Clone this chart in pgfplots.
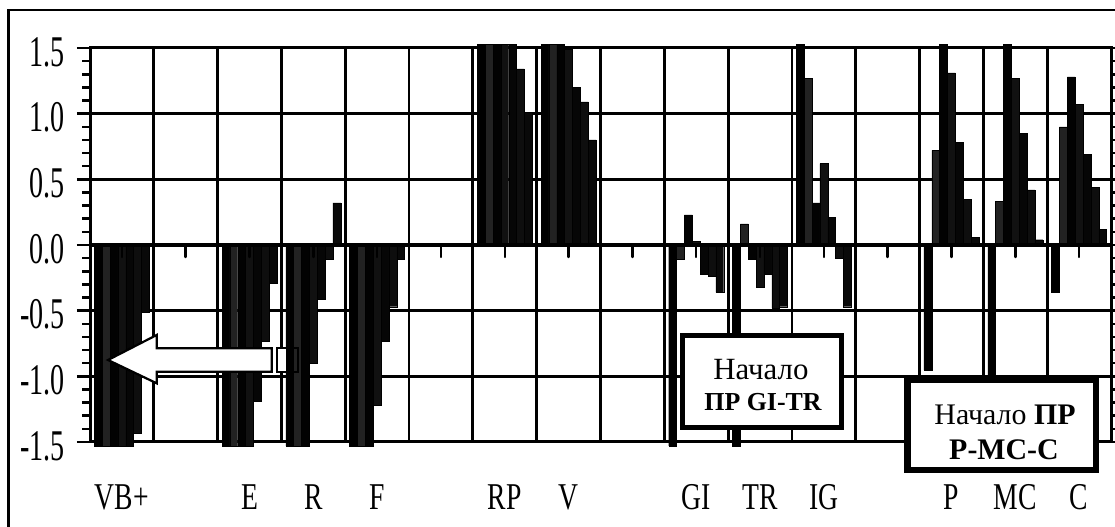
\documentclass[border=0pt]{standalone}
\usepackage{fontspec}
\setmainfont{Liberation Serif}
\newfontfamily\narrowfont{Liberation Serif}[FakeStretch=0.73]
\newfontfamily\ticksfont{Liberation Serif}[FakeStretch=0.64]
\usepackage{pgfplots}
\pgfplotsset{compat=1.18}
\definecolor{sA}{HTML}{000000}
\definecolor{sB}{HTML}{222222}
\definecolor{sC}{HTML}{020202}
\definecolor{sD}{HTML}{111111}
\definecolor{sE}{HTML}{060606}
\definecolor{sF}{HTML}{0E0E0E}
\definecolor{sG}{HTML}{090909}
\tikzset{lbl/.style={font=\narrowfont\fontsize{38}{38}\selectfont, anchor=base, yshift=-68bp}}
\begin{document}
\begin{tikzpicture}[x=1bp,y=1bp]
\useasboundingbox (0,0) rectangle (1115,527);
\draw[line width=2.5bp] (8.5,517) rectangle (1135,-20);
\begin{axis}[
  at={(90bp,85bp)}, anchor=south west,
  width=1021bp, height=394bp, scale only axis,
  xmin=-0.5, xmax=15.5, ymin=-1.5, ymax=1.5,
  clip=false,
  ybar=0pt, bar width=7.86bp,
  xtick={0.5,1.5,...,14.5}, xticklabels={}, xmajorgrids,
  xtick style={draw=none},
  ytick={-1.5,-1,-0.5,0,0.5,1,1.5},
  yticklabels={-1.5,-1.0,-0.5,0.0,0.5,1.0,1.5},
  minor y tick num=4,
  ymajorgrids,
  tick align=outside,
  major tick length=13bp, minor tick length=8bp,
  ytick style={line width=2.5bp, black},
  yticklabel style={font=\ticksfont\fontsize{44}{44}\selectfont, inner sep=0pt, anchor=east, xshift=-12bp, yshift=-4bp},
  major grid style={line width=2.8bp, black},
  axis line style={line width=3bp},
  every axis plot/.append style={draw=black, line width=0.4bp},
]
\addplot[fill=sA] coordinates {(0,-1.53) (2,-1.53) (3,-1.53) (4,-1.53) (6,1.53) (7,1.53) (9,-1.53) (10,-1.53) (11,1.53) (13,-0.95) (14,-1.2) (15,-0.36)};
\addplot[fill=sB] coordinates {(0,-1.53) (2,-1.53) (3,-1.53) (4,-1.53) (6,1.53) (7,1.53) (9,-0.11) (10,0.16) (11,1.27) (13,0.72) (14,0.33) (15,0.90)};
\addplot[fill=sC] coordinates {(0,-1.53) (2,-1.53) (3,-1.53) (4,-1.53) (6,1.53) (7,1.53) (9,0.23) (10,-0.11) (11,0.32) (13,1.53) (14,1.53) (15,1.28)};
\addplot[fill=sD] coordinates {(0,-1.53) (2,-1.53) (3,-0.90) (4,-1.22) (6,1.53) (7,1.49) (9,0.03) (10,-0.32) (11,0.62) (13,1.31) (14,1.27) (15,1.07)};
\addplot[fill=sE] coordinates {(0,-1.53) (2,-1.19) (3,-0.41) (4,-0.73) (6,1.53) (7,1.20) (9,-0.22) (10,-0.22) (11,0.21) (13,0.78) (14,0.85) (15,0.69)};
\addplot[fill=sF] coordinates {(0,-1.43) (2,-0.73) (3,-0.11) (4,-0.47) (6,1.34) (7,1.09) (9,-0.24) (10,-0.48) (11,-0.10) (13,0.35) (14,0.42) (15,0.44)};
\addplot[fill=sG] coordinates {(0,-0.51) (2,-0.29) (3,0.32) (4,-0.11) (6,1.01) (7,0.80) (9,-0.36) (10,-0.47) (11,-0.47) (13,0.06) (14,0.04) (15,0.12)};
\draw[line width=4bp] (axis cs:-0.5,0) -- (axis cs:15.5,0);
\pgfplotsinvokeforeach{-0.5,0,...,15.5}{\draw[line width=2.5bp, line cap=round] (axis cs:#1,0) -- ++(0pt,-12bp);}
\node[lbl] at (axis cs:0,-1.5) {VB+};
\node[lbl] at (axis cs:2,-1.5) {E};
\node[lbl] at (axis cs:3,-1.5) {R};
\node[lbl] at (axis cs:4,-1.5) {F};
\node[lbl] at (axis cs:6,-1.5) {RP};
\node[lbl] at (axis cs:7,-1.5) {V};
\node[lbl] at (axis cs:9,-1.5) {GI};
\node[lbl] at (axis cs:10,-1.5) {TR};
\node[lbl] at (axis cs:11,-1.5) {IG};
\node[lbl] at (axis cs:13,-1.5) {P};
\node[lbl] at (axis cs:14,-1.5) {MC};
\node[lbl] at (axis cs:15,-1.5) {C};
\end{axis}
% arrow
\draw[line width=2.2bp, fill=white, line join=miter] (108,167) -- (156.7,192) -- (156.7,178.7) -- (271.7,178.7) -- (271.7,155.3) -- (156.7,155.3) -- (156.7,143.7) -- cycle;
\fill[white] (277,155.3) rectangle (286,178.7);
\draw[line width=2bp] (276.7,155.3) rectangle (298.3,178.7);
% box 1
\draw[line width=5bp, fill=white] (682.5,191) rectangle (841,99.5);
\node[font=\fontsize{31}{31}\selectfont, anchor=base] at (761,147) {Начало};
\node[font=\bfseries\fontsize{26}{26}\selectfont, anchor=base] at (763,116) {ПР GI-TR};
% box 2
\draw[line width=6.5bp, fill=white] (907.5,147) rectangle (1096,57);
\node[font=\fontsize{30}{30}\selectfont, anchor=base] at (1005,102) {Начало \textbf{ПР}};
\node[font=\bfseries\fontsize{30}{30}\selectfont, anchor=base] at (1004,67) {P-MC-C};
\end{tikzpicture}
\end{document}
